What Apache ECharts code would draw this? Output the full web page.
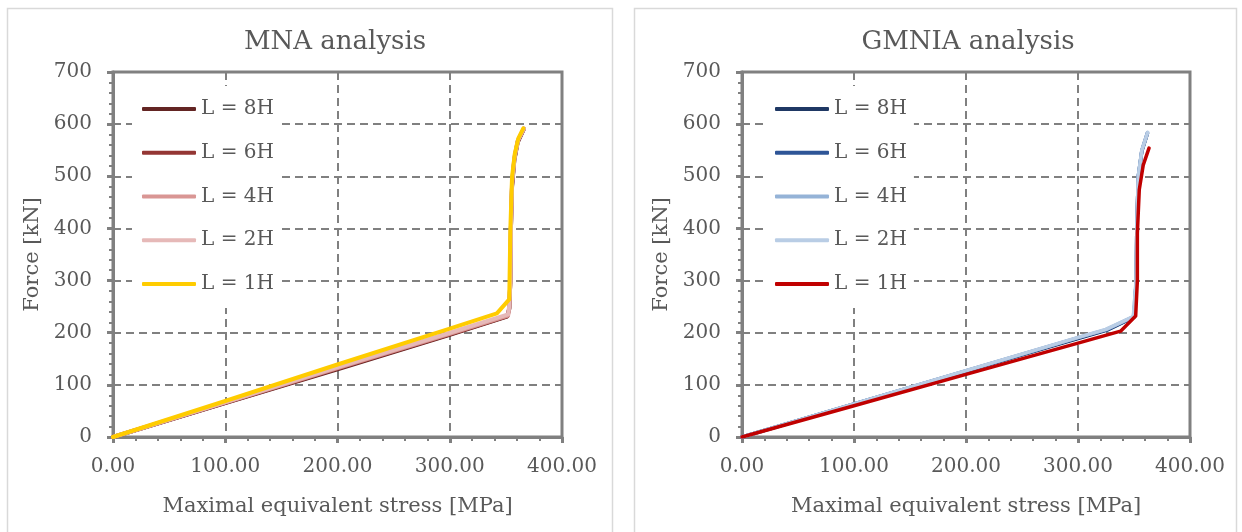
<!DOCTYPE html>
<html><head><meta charset="utf-8">
<script src="https://cdn.jsdelivr.net/npm/echarts@6/dist/echarts.min.js"></script>
<style>html,body{margin:0;padding:0;background:#fff}#c{width:1242px;height:532px}</style>
</head><body><div id="c"></div>
<script>
// ---- data ----
const seriesNames = ['L = 8H', 'L = 6H', 'L = 4H', 'L = 2H', 'L = 1H'];
const mnaColors = ['#632523', '#943634', '#D99694', '#E6B9B8', '#FFCC00'];
const gmniaColors = ['#1F3864', '#2E5597', '#95B3D7', '#B9CDE5', '#C00000'];
const xTicks = [0, 100, 200, 300, 400];
const yTicks = [0, 100, 200, 300, 400, 500, 600, 700];

const mna8H = [[0,0],[100,65],[200,130],[300,196],[351,231],[353,245],[354,300],[354.5,400],[355.5,480],[357.5,530],[360.5,565],[366,591]];
const mna6H = [[0,0],[100,65.5],[200,131],[300,197],[351.5,232],[353,247],[354,300],[354.5,400],[355.5,482],[357.5,532],[360.5,566],[366,591]];
const mna4H = [[0,0],[100,66],[200,132],[300,198],[352,233],[353,249],[354,300],[354.5,400],[355.5,485],[357.5,535],[360.5,568],[366,591]];
const mna2H = [[0,0],[100,67],[200,134],[300,200],[352,235],[353,252],[354,300],[354.5,400],[355.5,490],[358,540],[361,570],[366,592]];
const mna1H = [[0,0],[100,69],[200,139],[300,208],[342,237],[353,264],[354,400],[355.5,499],[358,544],[361,572],[365.5,592]];

const gm8H = [[0,0],[100,63],[200,126],[300,189],[326,205],[350,230],[352,300],[352.5,400],[353.8,498],[357,548],[362,582]];
const gm6H = [[0,0],[100,63.3],[200,126.5],[300,190],[325.5,205.5],[350,230.5],[352,300],[352.5,400],[353.8,499],[357,549],[362,583]];
const gm4H = [[0,0],[100,63.5],[200,127],[300,190.5],[325,206],[349.5,231],[352,300],[352.5,400],[353.8,500],[357,550],[362,584]];
const gm2H = [[0,0],[100,63.6],[200,127.3],[300,191],[324.7,206.5],[349.4,231],[351.8,300],[352.5,400],[353.8,500],[357,550],[362.2,584]];
const gm1H = [[0,0],[100,60],[200,120],[300,180],[338,203],[351.5,232],[353,300],[353,391],[354.7,474],[358.3,522],[363.4,554]];

const mnaData = [mna8H, mna6H, mna4H, mna2H, mna1H];
const gmData = [gm8H, gm6H, gm4H, gm2H, gm1H];

// ---- styling ----
const FONT = 'DejaVu Serif';
const TXT = '#595959';
const AX = '#808080';

function xAxis(gi) {
  return {
    type: 'value', gridIndex: gi, min: xTicks[0], max: xTicks[xTicks.length-1], interval: 100,
    name: 'Maximal equivalent stress [MPa]', nameLocation: 'middle', nameGap: 59,
    nameTextStyle: { fontFamily: FONT, fontSize: 21, color: TXT },
    axisLine: { show: true, onZero: false, lineStyle: { color: AX, width: 3 } },
    axisTick: { show: true, inside: false, length: 6, lineStyle: { color: AX, width: 3 } },
    minorTick: { show: true, splitNumber: 5, length: 4, lineStyle: { color: AX, width: 2 } },
    axisLabel: { fontFamily: FONT, fontSize: 20, color: TXT, margin: 20, formatter: v => v.toFixed(2) },
    splitLine: { show: true, lineStyle: { color: AX, width: 2, type: [8, 5] } },
  };
}
function yAxis(gi) {
  return {
    type: 'value', gridIndex: gi, min: yTicks[0], max: yTicks[yTicks.length-1], interval: 100,
    name: 'Force [kN]', nameLocation: 'middle', nameGap: 70,
    nameTextStyle: { fontFamily: FONT, fontSize: 21, color: TXT },
    axisLine: { show: true, onZero: false, lineStyle: { color: AX, width: 3 } },
    axisTick: { show: true, inside: false, length: 6, lineStyle: { color: AX, width: 3 } },
    minorTick: { show: true, splitNumber: 5, length: 4, lineStyle: { color: AX, width: 2 } },
    axisLabel: { fontFamily: FONT, fontSize: 20, color: TXT, margin: 21 },
    splitLine: { show: true, lineStyle: { color: AX, width: 2, type: [8, 5] } },
  };
}

const series = [];
seriesNames.forEach((n, i) => {
  series.push({ type: 'line', name: n, xAxisIndex: 0, yAxisIndex: 0, data: mnaData[i],
    showSymbol: false, symbol: 'none', smooth: false, color: mnaColors[i],
    lineStyle: { width: 4, color: mnaColors[i], cap: 'round', join: 'round' }, z: 3 + i });
  series.push({ type: 'line', name: n + ' ', xAxisIndex: 1, yAxisIndex: 1, data: gmData[i],
    showSymbol: false, symbol: 'none', smooth: false, color: gmniaColors[i],
    lineStyle: { width: 3.5, color: gmniaColors[i], cap: 'round', join: 'round' }, z: 3 + i });
});

function legend(left, names, padLeft) {
  return {
    orient: 'vertical', left: left, top: 86, padding: [11, 7, 12, padLeft],
    backgroundColor: '#ffffff', itemWidth: 54, itemHeight: 4, itemGap: 19.75,
    icon: 'roundRect', data: names, z: 10,
    textStyle: { fontFamily: FONT, fontSize: 20, color: TXT, lineHeight: 24 },
    formatter: n => n.trim()
  };
}

const chart = echarts.init(document.getElementById('c'), null, { renderer: 'canvas' });
chart.setOption({
  animation: false,
  backgroundColor: '#fff',
  title: [
    { text: 'MNA analysis', left: 330, top: 24, textAlign: 'center', textStyle: { fontFamily: FONT, fontSize: 26, fontWeight: 'normal', color: TXT } },
    { text: 'GMNIA analysis', left: 963, top: 24, textAlign: 'center', textStyle: { fontFamily: FONT, fontSize: 26, fontWeight: 'normal', color: TXT } }
  ],
  graphic: [
    { type: 'rect', shape: { x: 7.5, y: 8.5, width: 605, height: 540 }, style: { fill: 'none', stroke: '#d9d9d9', lineWidth: 1.5 }, silent: true },
    { type: 'rect', shape: { x: 634.5, y: 8.5, width: 602, height: 540 }, style: { fill: 'none', stroke: '#d9d9d9', lineWidth: 1.5 }, silent: true }
  ],
  legend: [
    legend(132, seriesNames, 10),
    legend(763, seriesNames.map(n => n + ' '), 12)
  ],
  grid: [
    { left: 113, top: 72, width: 449, height: 365, show: true, borderColor: AX, borderWidth: 3, backgroundColor: 'transparent' },
    { left: 742, top: 72, width: 448, height: 365, show: true, borderColor: AX, borderWidth: 3, backgroundColor: 'transparent' }
  ],
  xAxis: [xAxis(0), xAxis(1)],
  yAxis: [yAxis(0), yAxis(1)],
  series: series
});
</script></body></html>
